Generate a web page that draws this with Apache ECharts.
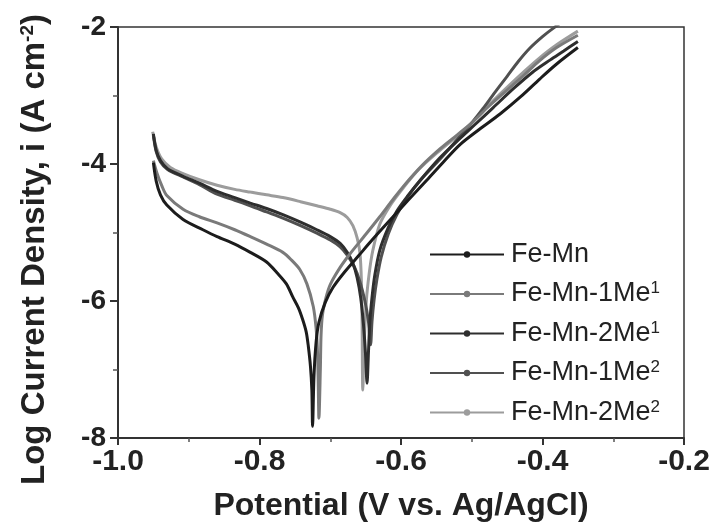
<!DOCTYPE html>
<html>
<head>
<meta charset="utf-8">
<script src="https://cdn.jsdelivr.net/npm/echarts@6/dist/echarts.min.js"></script>
<style>html,body{margin:0;padding:0;background:#fff}#c{width:717px;height:527px}</style>
</head>
<body>
<div id="c"></div>
<script>
// Potential (V vs Ag/AgCl), log current density pairs
const feMn = [[-0.950,-3.98],[-0.946,-4.25],[-0.940,-4.45],[-0.931,-4.60],[-0.908,-4.81],[-0.880,-4.96],[-0.860,-5.06],[-0.835,-5.17],[-0.813,-5.29],[-0.790,-5.43],[-0.775,-5.59],[-0.762,-5.75],[-0.753,-5.94],[-0.745,-6.10],[-0.739,-6.27],[-0.734,-6.45],[-0.731,-6.66],[-0.728,-6.95],[-0.726,-7.30],[-0.725,-7.83],[-0.723,-7.10],[-0.720,-6.60],[-0.716,-6.31],[-0.707,-6.02],[-0.696,-5.80],[-0.680,-5.58],[-0.660,-5.34],[-0.640,-5.10],[-0.620,-4.87],[-0.590,-4.53],[-0.563,-4.23],[-0.540,-3.97],[-0.517,-3.72],[-0.490,-3.50],[-0.460,-3.27],[-0.430,-3.01],[-0.404,-2.76],[-0.380,-2.54],[-0.350,-2.30]];
const feMn1Me1 = [[-0.950,-3.95],[-0.945,-4.13],[-0.938,-4.32],[-0.931,-4.46],[-0.908,-4.66],[-0.885,-4.77],[-0.860,-4.86],[-0.835,-4.96],[-0.813,-5.06],[-0.790,-5.17],[-0.767,-5.29],[-0.755,-5.40],[-0.743,-5.54],[-0.733,-5.75],[-0.724,-6.08],[-0.720,-6.40],[-0.718,-6.75],[-0.717,-7.20],[-0.716,-7.71],[-0.714,-7.00],[-0.713,-6.50],[-0.711,-6.20],[-0.706,-5.95],[-0.700,-5.76],[-0.686,-5.51],[-0.672,-5.31],[-0.650,-5.03],[-0.630,-4.77],[-0.613,-4.54],[-0.597,-4.33],[-0.570,-4.02],[-0.545,-3.78],[-0.520,-3.57],[-0.498,-3.38],[-0.475,-3.15],[-0.450,-2.92],[-0.425,-2.69],[-0.404,-2.49],[-0.380,-2.30],[-0.350,-2.12]];
const feMn2Me1 = [[-0.950,-3.56],[-0.946,-3.80],[-0.940,-3.95],[-0.930,-4.07],[-0.908,-4.18],[-0.885,-4.28],[-0.860,-4.40],[-0.835,-4.49],[-0.813,-4.57],[-0.790,-4.65],[-0.767,-4.74],[-0.742,-4.85],[-0.719,-4.96],[-0.700,-5.06],[-0.686,-5.16],[-0.676,-5.29],[-0.668,-5.45],[-0.662,-5.66],[-0.657,-5.95],[-0.653,-6.35],[-0.650,-6.80],[-0.648,-7.20],[-0.646,-6.75],[-0.644,-6.30],[-0.641,-5.95],[-0.637,-5.62],[-0.630,-5.26],[-0.618,-4.93],[-0.606,-4.69],[-0.590,-4.46],[-0.573,-4.24],[-0.545,-3.91],[-0.517,-3.63],[-0.495,-3.42],[-0.470,-3.18],[-0.440,-2.89],[-0.414,-2.66],[-0.389,-2.48],[-0.370,-2.35],[-0.350,-2.21]];
const feMn1Me2 = [[-0.950,-3.58],[-0.946,-3.82],[-0.940,-3.97],[-0.930,-4.08],[-0.908,-4.19],[-0.885,-4.30],[-0.860,-4.44],[-0.835,-4.53],[-0.813,-4.61],[-0.790,-4.70],[-0.767,-4.79],[-0.742,-4.90],[-0.719,-5.01],[-0.700,-5.11],[-0.686,-5.21],[-0.676,-5.33],[-0.666,-5.50],[-0.658,-5.72],[-0.651,-6.00],[-0.646,-6.30],[-0.643,-6.64],[-0.641,-6.30],[-0.638,-5.98],[-0.634,-5.68],[-0.628,-5.36],[-0.618,-5.02],[-0.606,-4.74],[-0.590,-4.47],[-0.573,-4.24],[-0.545,-3.93],[-0.517,-3.60],[-0.500,-3.40],[-0.484,-3.19],[-0.467,-2.95],[-0.450,-2.72],[-0.434,-2.50],[-0.418,-2.31],[-0.400,-2.14],[-0.385,-2.02],[-0.370,-1.91],[-0.350,-1.78]];
const feMn2Me2 = [[-0.951,-3.53],[-0.946,-3.75],[-0.938,-3.93],[-0.926,-4.05],[-0.908,-4.14],[-0.885,-4.23],[-0.860,-4.31],[-0.835,-4.37],[-0.813,-4.41],[-0.790,-4.45],[-0.767,-4.49],[-0.742,-4.55],[-0.719,-4.61],[-0.700,-4.66],[-0.686,-4.71],[-0.676,-4.78],[-0.668,-4.90],[-0.662,-5.08],[-0.658,-5.30],[-0.656,-5.70],[-0.655,-6.30],[-0.654,-7.30],[-0.652,-6.60],[-0.649,-6.00],[-0.645,-5.60],[-0.640,-5.27],[-0.630,-4.88],[-0.615,-4.60],[-0.597,-4.35],[-0.575,-4.08],[-0.545,-3.80],[-0.517,-3.56],[-0.498,-3.38],[-0.475,-3.13],[-0.450,-2.88],[-0.425,-2.64],[-0.404,-2.45],[-0.380,-2.26],[-0.350,-2.06]];

const seriesNames = ['Fe-Mn','Fe-Mn-1Me1','Fe-Mn-2Me1','Fe-Mn-1Me2','Fe-Mn-2Me2'];
const seriesData = [feMn, feMn1Me1, feMn2Me1, feMn1Me2, feMn2Me2];
const seriesColors = ['#1c1c1c','#7a7a7a','#2e2e2e','#505050','#9c9c9c'];
const legendBase = ['Fe-Mn','Fe-Mn-1Me','Fe-Mn-2Me','Fe-Mn-1Me','Fe-Mn-2Me'];
const legendSup = ['','1','1','2','2'];
const xTicks = {min:-1.0, max:-0.2, step:0.2};
const yTicks = {min:-8, max:-2, step:2};

const FONT = '"Liberation Sans", Arial, Helvetica, sans-serif';
const chart = echarts.init(document.getElementById('c'), null, {renderer:'canvas'});

const option = {
  backgroundColor:'#ffffff',
  animation:false,
  grid:{left:118, right:33, top:27, bottom:88, show:true, borderColor:'#333', borderWidth:1.5, backgroundColor:'transparent'},
  legend:{
    orient:'vertical', left:424, top:236, itemGap:12, itemWidth:74, itemHeight:8,
    data:seriesNames,
    formatter:function(name){
      const i = seriesNames.indexOf(name);
      return '{n|'+legendBase[i]+'}' + (legendSup[i] ? '{s|'+legendSup[i]+'}' : '');
    },
    textStyle:{color:'#222', fontFamily:FONT, fontSize:27, padding:[0,0,0,2],
      rich:{n:{fontSize:27, fontFamily:FONT, color:'#222', lineHeight:28},
            s:{fontSize:17, fontFamily:FONT, color:'#222', lineHeight:16, verticalAlign:'top'}}}
  },
  xAxis:{
    type:'value', min:xTicks.min, max:xTicks.max, interval:xTicks.step,
    name:'Potential (V vs. Ag/AgCl)', nameLocation:'middle', nameGap:52,
    nameTextStyle:{fontFamily:FONT, fontWeight:'bold', fontSize:32, color:'#222'},
    axisLine:{lineStyle:{color:'#333', width:2}},
    axisTick:{show:true, inside:false, length:7, lineStyle:{color:'#333', width:2}},
    minorTick:{show:true, splitNumber:2, length:4, lineStyle:{color:'#555', width:1.5}},
    splitLine:{show:false},
    axisLabel:{fontFamily:FONT, fontWeight:'bold', fontSize:30, color:'#222', margin:9,
      formatter:function(v){return v.toFixed(1);}}
  },
  yAxis:{
    type:'value', min:yTicks.min, max:yTicks.max, interval:yTicks.step,
    name:'{n|Log Current Density, i (A cm}{s|-2}{n|)}', nameLocation:'middle', nameGap:66, nameRotate:90,
    nameTextStyle:{fontFamily:FONT, fontWeight:'bold', fontSize:33, color:'#222', padding:[0,34,0,0],
      rich:{n:{fontFamily:FONT, fontWeight:'bold', fontSize:33, color:'#222', lineHeight:34},
            s:{fontFamily:FONT, fontWeight:'bold', fontSize:19, color:'#222', lineHeight:18, verticalAlign:'top'}}},
    axisLine:{lineStyle:{color:'#333', width:2}},
    axisTick:{show:true, inside:false, length:8, lineStyle:{color:'#333', width:2}},
    minorTick:{show:true, splitNumber:2, length:5, lineStyle:{color:'#555', width:1.5}},
    splitLine:{show:false},
    axisLabel:{fontFamily:FONT, fontWeight:'bold', fontSize:28, color:'#222', margin:12,
      formatter:function(v){return String(v);}}
  },
  series: seriesNames.map(function(n,i){
    return {
      name:n, type:'line', data:seriesData[i], smooth:0.3,
      showSymbol:false, symbol:'circle', symbolSize:3, clip:true,
      lineStyle:{color:seriesColors[i], width:3},
      itemStyle:{color:seriesColors[i]},
      z: 10 - i
    };
  })
};
chart.setOption(option);
</script>
</body>
</html>
